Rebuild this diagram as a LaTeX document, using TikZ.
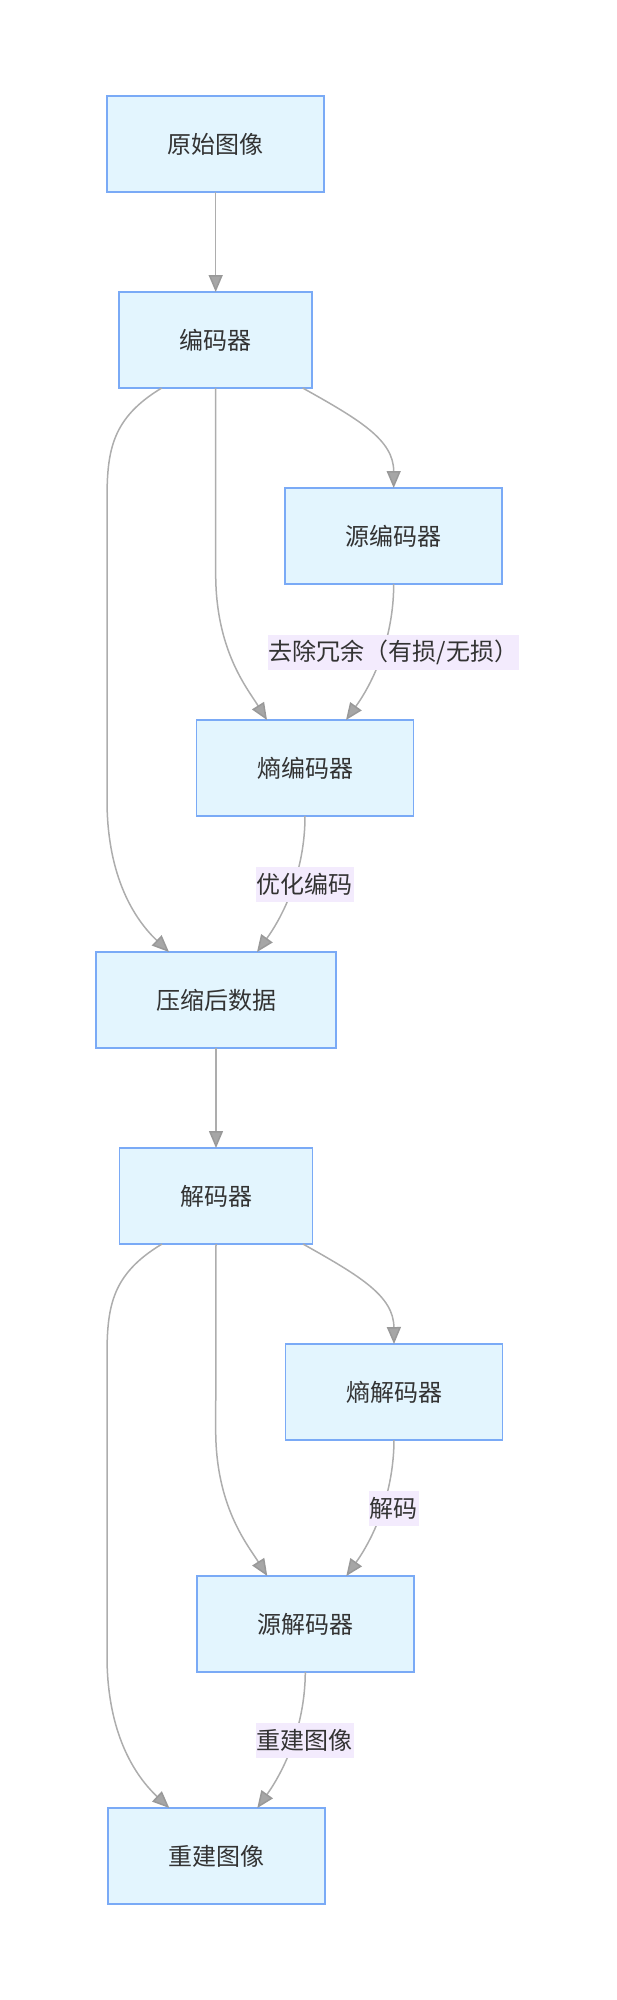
\documentclass[tikz,border=0pt]{standalone}
\usepackage{fontspec}
\setmainfont{Noto Sans CJK SC}
\usepackage{tikz}
\usetikzlibrary{positioning, calc, arrows.meta}

\definecolor{boxfill}{HTML}{E3F5FE}
\definecolor{boxline}{HTML}{7AAAF6}
\definecolor{linegrey}{HTML}{ADADAD}
\definecolor{tipfill}{HTML}{A6A6A6}
\definecolor{tipedge}{HTML}{999999}
\definecolor{labelbg}{HTML}{F3EBFD}
\definecolor{textgrey}{HTML}{333333}

\begin{document}
\begin{tikzpicture}
    [x=1pt, y=-1pt,
    font=\fontsize{24pt}{28pt}\selectfont, text=textgrey,
    boxnode/.style={rectangle, draw=boxline, fill=boxfill, line width=1.5pt, minimum height=96pt, inner sep=0pt, outer sep=0pt},
    labelnode/.style={fill=labelbg, inner xsep=1pt, inner ysep=0pt, minimum height=35pt, xshift=14pt, yshift=7.5pt},
    flowline/.style={draw=linegrey, line width=1.5pt, -{Triangle[width=14pt, length=17pt, color=tipedge, fill=tipfill]}},]

    \useasboundingbox (0,0) rectangle (616,2000);

    %Nodes
    \node[boxnode, minimum width=217pt](image) at (215.7,144) {原始图像};
    \node[boxnode, minimum width=193pt](encoder)[below=100pt of image] {编码器};
    \node[boxnode, minimum width=217pt](srcenc)[below=100pt of encoder, xshift=178pt] {源编码器};
    \node[boxnode, minimum width=217pt](entenc)[below=136pt of srcenc, xshift=-88.7pt] {熵编码器};
    \node[boxnode, minimum width=240pt](data)[below=136pt of entenc, xshift=-89pt] {压缩后数据};
    \node[boxnode, minimum width=193pt](decoder)[below=100pt of data] {解码器};
    \node[boxnode, minimum width=217pt](entdec)[below=100pt of decoder, xshift=178pt] {熵解码器};
    \node[boxnode, minimum width=217pt](srcdec)[below=136pt of entdec, xshift=-88.7pt] {源解码器};
    \node[boxnode, minimum width=217pt](rebuilt)[below=136pt of srcdec, xshift=-89pt] {重建图像};

    %Lines
    \draw[flowline](image)--(encoder);
    \draw[flowline]([xshift=87pt]encoder.south) .. controls (360,420) and (393.7,440) .. (srcenc.north);
    \draw[flowline](encoder.south) -- (215.7,574) .. controls (215.7,650) and (247,688) .. ([xshift=-38pt]entenc.north);
    \draw[flowline]([xshift=-54pt]encoder.south) .. controls (112,418) and (107,450) .. (107,500) -- (107,800)
        .. controls (107,870) and (130,915) .. ([xshift=-47pt]data.north);
    \draw[flowline](srcenc.south) .. controls (393.7,640) and (372,684) .. ([xshift=41pt]entenc.north)
        node[labelnode, pos=0.5](lossy){去除冗余（有损/无损）};
    \draw[flowline](entenc.south) .. controls (305,872) and (283,916) .. ([xshift=41pt]data.north)
        node[labelnode, pos=0.5](optimize){优化编码};

    \draw[flowline](data)--(decoder);
    \draw[flowline]([xshift=87pt]decoder.south) .. controls (360,1276) and (393.7,1296) .. (entdec.north);
    \draw[flowline](decoder.south) -- (215.7,1430) .. controls (215.7,1506) and (247,1544) .. ([xshift=-38pt]srcdec.north);
    \draw[flowline]([xshift=-54pt]decoder.south) .. controls (112,1274) and (107,1306) .. (107,1356) -- (107,1656)
        .. controls (107,1726) and (130,1771) .. ([xshift=-47pt]rebuilt.north);
    \draw[flowline](entdec.south) .. controls (393.7,1496) and (372,1540) .. ([xshift=41pt]srcdec.north)
        node[labelnode, pos=0.5](decode){解码};
    \draw[flowline](srcdec.south) .. controls (305,1728) and (283,1772) .. ([xshift=41pt]rebuilt.north)
        node[labelnode, pos=0.5](rebuild){重建图像};

\end{tikzpicture}
\end{document}
